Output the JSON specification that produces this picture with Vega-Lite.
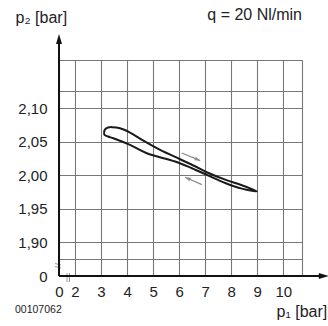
{
  "$schema": "https://vega.github.io/schema/vega-lite/v6.json",
  "width": 243,
  "height": 216,
  "autosize": {"type": "none"},
  "padding": {"left": 59, "top": 60, "right": 26, "bottom": 50},
  "background": "white",
  "config": {
    "view": {"stroke": null},
    "font": "Liberation Sans",
    "text": {"font": "Liberation Sans", "color": "#222222"}
  },
  "datasets": {
    "loop": [
      {"i": 0, "x": 3.115, "y": 2.0639},
      {"i": 1, "x": 3.154, "y": 2.0684},
      {"i": 2, "x": 3.269, "y": 2.0713},
      {"i": 3, "x": 3.423, "y": 2.0718},
      {"i": 4, "x": 3.731, "y": 2.0701},
      {"i": 5, "x": 4.115, "y": 2.0636},
      {"i": 6, "x": 4.627, "y": 2.0516},
      {"i": 7, "x": 5.269, "y": 2.0378},
      {"i": 8, "x": 6.038, "y": 2.0239},
      {"i": 9, "x": 6.615, "y": 2.0134},
      {"i": 10, "x": 7.127, "y": 2.0034},
      {"i": 11, "x": 7.769, "y": 1.9934},
      {"i": 12, "x": 8.412, "y": 1.9851},
      {"i": 13, "x": 8.988, "y": 1.9761},
      {"i": 14, "x": 8.412, "y": 1.98},
      {"i": 15, "x": 7.769, "y": 1.9885},
      {"i": 16, "x": 7.127, "y": 1.9995},
      {"i": 17, "x": 6.488, "y": 2.0105},
      {"i": 18, "x": 5.846, "y": 2.0205},
      {"i": 19, "x": 4.758, "y": 2.0328},
      {"i": 20, "x": 4.115, "y": 2.0452},
      {"i": 21, "x": 3.473, "y": 2.0552},
      {"i": 22, "x": 3.269, "y": 2.0578},
      {"i": 23, "x": 3.135, "y": 2.0603},
      {"i": 24, "x": 3.115, "y": 2.0639}
    ],
    "axisLines": [
      {"x": 0, "x2": 11.6, "y": 0, "y2": 0},
      {"x": 0, "x2": 0, "y": 0, "y2": 2.2}
    ],
    "xHead": [{"x": 11.75, "y": 0}],
    "yHead": [{"x": 0, "y": 2.2109}],
    "arrowLines": [
      {"x": 6.104, "y": 2.0333, "x2": 6.808, "y2": 2.0218},
      {"x": 6.873, "y": 1.986, "x2": 6.231, "y2": 1.997}
    ],
    "arrowRight": [{"x": 6.808, "y": 2.0218}],
    "arrowLeft": [{"x": 6.231, "y": 1.997}],
    "breaks": [
      {"x": -0.5, "x2": 0.25, "y": 1.379, "y2": 1.213},
      {"x": -0.5, "x2": 0.25, "y": 1.048, "y2": 0.882},
      {"x": 1.0, "x2": 1.0, "y": 0.331, "y2": -0.662},
      {"x": 1.3125, "x2": 1.3125, "y": 0.331, "y2": -0.662}
    ],
    "noteRight": [{"x": 10.72, "y": 2.2393, "label": "q = 20 Nl/min"}],
    "noteLeft": [{"x": -5.5, "y": -3.75, "label": "00107062"}]
  },
  "encoding": {
    "x": {
      "field": "x",
      "type": "quantitative",
      "scale": {"domain": [0, 2, 10.72], "range": [0, 16, 243], "nice": false, "zero": false, "clamp": false},
      "axis": {
        "values": [0, 2, 3, 4, 5, 6, 7, 8, 9, 10, 10.72],
        "labelExpr": "datum.value > 10.5 ? '' : datum.label",
        "domain": false,
        "ticks": false,
        "grid": true,
        "gridColor": "#777777",
        "gridWidth": 1.1,
        "labelFont": "Liberation Sans",
        "labelFontSize": 15,
        "labelColor": "#222222",
        "labelPadding": 8,
        "labelFlush": false,
        "labelOverlap": false,
        "labelBound": false,
        "title": "p₁ [bar]",
        "titleFont": "Liberation Sans",
        "titleFontSize": 16,
        "titleFontWeight": "normal",
        "titleColor": "#222222",
        "titleX": 217,
        "titleY": 35,
        "titleAlign": "left",
        "titleBaseline": "middle"
      }
    },
    "y": {
      "field": "y",
      "type": "quantitative",
      "scale": {"domain": [0, 1.875, 2.172], "range": [216, 199, 0], "nice": false, "zero": false, "clamp": false},
      "axis": {
        "values": [0, 1.875, 1.9, 1.95, 2, 2.05, 2.1, 2.125, 2.172],
        "labelExpr": "datum.value == 0 ? '0' : (datum.value < 1.89 || datum.value > 2.11) ? '' : replace(format(datum.value, '.2f'), '.', ',')",
        "domain": false,
        "ticks": false,
        "grid": true,
        "gridColor": "#777777",
        "gridWidth": 1.1,
        "labelFont": "Liberation Sans",
        "labelFontSize": 15,
        "labelColor": "#222222",
        "labelPadding": 12,
        "labelOverlap": false,
        "labelBound": false,
        "labelFlush": false,
        "title": "p₂ [bar]",
        "titleFont": "Liberation Sans",
        "titleFontSize": 16,
        "titleFontWeight": "normal",
        "titleColor": "#222222",
        "titleAngle": 0,
        "titleX": -44,
        "titleY": -43,
        "titleAlign": "left",
        "titleBaseline": "middle"
      }
    }
  },
  "layer": [
    {
      "data": {"name": "breaks"},
      "mark": {"type": "rule", "color": "#999999", "strokeWidth": 1},
      "encoding": {"x2": {"field": "x2"}, "y2": {"field": "y2"}}
    },
    {
      "data": {"name": "axisLines"},
      "mark": {"type": "rule", "color": "#111111", "strokeWidth": 2},
      "encoding": {"x2": {"field": "x2"}, "y2": {"field": "y2"}}
    },
    {
      "data": {"name": "xHead"},
      "mark": {"type": "point", "shape": "M0,0L-2,-0.6L-2,0.6Z", "size": 100, "filled": true, "color": "#111111", "opacity": 1, "strokeWidth": 0}
    },
    {
      "data": {"name": "yHead"},
      "mark": {"type": "point", "shape": "M0,0L-2,-0.6L-2,0.6Z", "size": 100, "angle": 270, "filled": true, "color": "#111111", "opacity": 1, "strokeWidth": 0}
    },
    {
      "data": {"name": "arrowLines"},
      "mark": {"type": "rule", "color": "#8c8c8c", "strokeWidth": 1.2},
      "encoding": {"x2": {"field": "x2"}, "y2": {"field": "y2"}}
    },
    {
      "data": {"name": "arrowRight"},
      "mark": {"type": "point", "shape": "M0,0L-2,-0.7L-2,0.7Z", "size": 30, "angle": 23, "filled": true, "color": "#8c8c8c", "opacity": 1, "strokeWidth": 0}
    },
    {
      "data": {"name": "arrowLeft"},
      "mark": {"type": "point", "shape": "M0,0L-2,-0.7L-2,0.7Z", "size": 30, "angle": 203, "filled": true, "color": "#8c8c8c", "opacity": 1, "strokeWidth": 0}
    },
    {
      "data": {"name": "loop"},
      "mark": {"type": "line", "color": "#1a1a1a", "strokeWidth": 2, "strokeJoin": "round", "interpolate": "catmull-rom"},
      "encoding": {"order": {"field": "i", "type": "quantitative"}}
    },
    {
      "data": {"name": "noteRight"},
      "mark": {"type": "text", "align": "right", "baseline": "middle", "fontSize": 16, "color": "#222222"},
      "encoding": {"text": {"field": "label"}}
    },
    {
      "data": {"name": "noteLeft"},
      "mark": {"type": "text", "align": "left", "baseline": "middle", "fontSize": 10.5, "color": "#222222"},
      "encoding": {"text": {"field": "label"}}
    }
  ]
}
